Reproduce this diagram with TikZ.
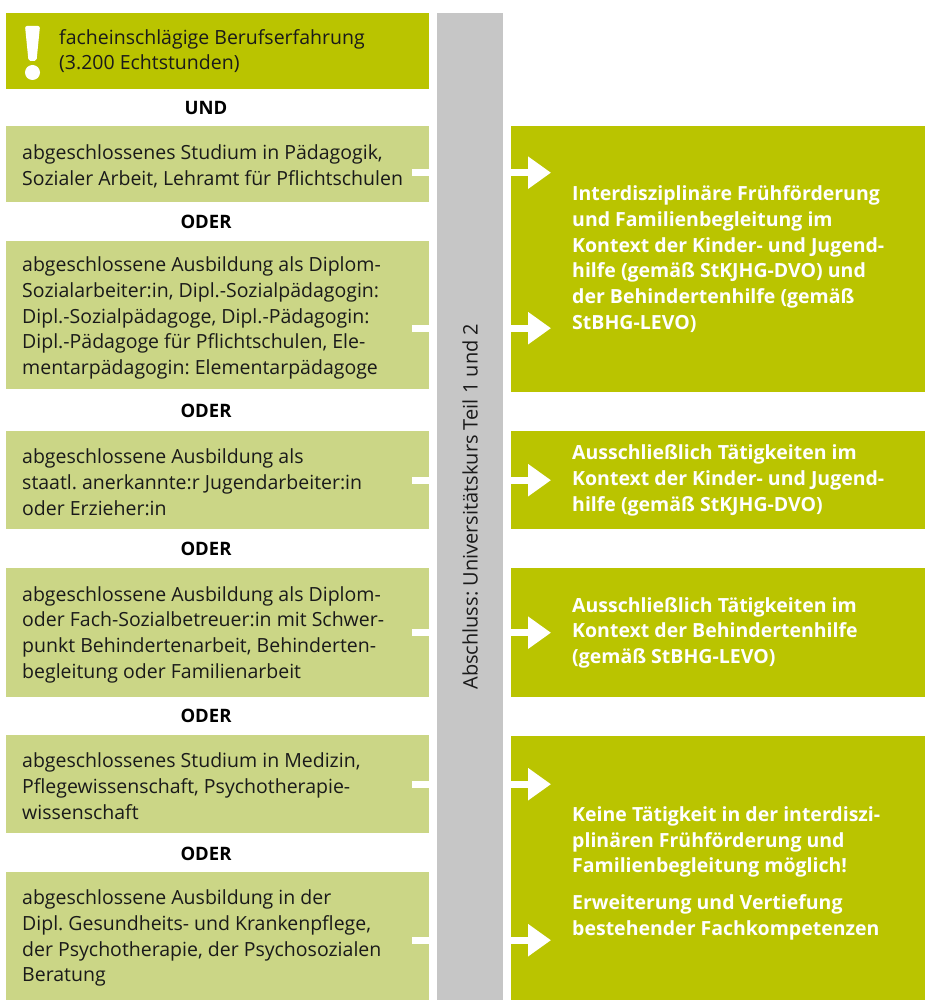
\documentclass[tikz,border=0pt]{standalone}
\usepackage{fontspec}
\setmainfont{Open Sans}
\usepackage{tikz}
\usetikzlibrary{arrows.meta,positioning}
\definecolor{limegreen}{HTML}{BAC400}
\definecolor{palegreen}{HTML}{CBD686}
\definecolor{bargrey}{HTML}{C6C6C6}
\definecolor{ink}{HTML}{1A1A1A}
\frenchspacing
\tikzset{
  reqbox/.style={rectangle, fill=#1, anchor=north west,
    minimum width=423pt, inner sep=0pt},
  reqbox/.default=palegreen,
  reqtext/.style={anchor=west, inner sep=0pt, align=left, text=ink,
    font=\fontsize{19.5}{25.7}\selectfont},
  joinlabel/.style={font=\bfseries\fontsize{18.5}{20}\selectfont, text=black},
  resultbox/.style={rectangle, fill=limegreen, anchor=north west,
    minimum width=414pt, inner sep=0pt},
  resulttext/.style={anchor=west, inner sep=0pt, align=left, text=white,
    font=\bfseries\fontsize{19.5}{25.7}\selectfont},
  pathway/.style={white, line width=7pt,
    -{Triangle[length=23pt,width=31pt]}},
}

\begin{document}
\begin{tikzpicture}[x=1pt, y=-1pt]
  \useasboundingbox (0,0) rectangle (925,1000);

  % entry requirements
  \node[reqbox=limegreen, minimum height=76pt] (praxis) at (6,13) {};
  \fill[white, rounded corners=2pt] (25,26) -- (40,26) -- (36.5,61) -- (28.5,61) -- cycle;
  \fill[white] (32.5,72.5) circle (7.5pt);
  \node[reqtext] (praxistext) at ([xshift=53pt]praxis.west)
    {facheinschlägige Berufserfahrung\\(3.200 Echtstunden)};
  \node[joinlabel] (und) at (206,108) {UND};

  \node[reqbox, minimum height=76pt] (studium) at (6,126) {};
  \node[reqtext] (studiumtext) at ([xshift=16pt,yshift=-2pt]studium.west)
    {abgeschlossenes Studium in Pädagogik,\\Sozialer Arbeit, Lehramt für Pflichtschulen};
  \node[joinlabel] (oder1) at (206,222) {ODER};

  \node[reqbox, minimum height=148pt] (diplom) at (6,241) {};
  \node[reqtext] (diplomtext) at ([xshift=16pt,yshift=-3pt]diplom.west)
    {abgeschlossene Ausbildung als Diplom-\\Sozialarbeiter:in, Dipl.-Sozialpädagogin:\\Dipl.-Sozialpädagoge, Dipl.-Pädagogin:\\Dipl.-Pädagoge für Pflichtschulen, Ele-\\mentarpädagogin: Elementarpädagoge};
  \node[joinlabel] (oder2) at (206,411) {ODER};

  \node[reqbox, minimum height=98pt] (jugend) at (6,431) {};
  \node[reqtext] (jugendtext) at ([xshift=16pt,yshift=-2pt]jugend.west)
    {abgeschlossene Ausbildung als\\staatl. anerkannte:r Jugendarbeiter:in\\oder Erzieher:in};
  \node[joinlabel] (oder3) at (206,549) {ODER};

  \node[reqbox, minimum height=129pt] (sozial) at (6,568) {};
  \node[reqtext] (sozialtext) at ([xshift=16pt,yshift=-2pt]sozial.west)
    {abgeschlossene Ausbildung als Diplom-\\oder Fach-Sozialbetreuer:in mit Schwer-\\punkt Behindertenarbeit, Behinderten-\\begleitung oder Familienarbeit};
  \node[joinlabel] (oder4) at (206,716) {ODER};

  \node[reqbox, minimum height=98pt] (medizin) at (6,735) {};
  \node[reqtext] (medizintext) at ([xshift=16pt,yshift=-2pt]medizin.west)
    {abgeschlossenes Studium in Medizin,\\Pflegewissenschaft, Psychotherapie-\\wissenschaft};
  \node[joinlabel] (oder5) at (206,854) {ODER};

  \node[reqbox, minimum height=128pt] (pflege) at (6,872) {};
  \node[reqtext] (pflegetext) at ([xshift=16pt,yshift=-2pt]pflege.west)
    {abgeschlossene Ausbildung in der\\Dipl. Gesundheits- und Krankenpflege,\\der Psychotherapie, der Psychosozialen\\Beratung};

  % fields of activity
  \node[resultbox, minimum height=266pt] (fruehf) at (511,126) {};
  \node[resulttext] (fruehftext) at ([xshift=61pt]fruehf.west)
    {Interdisziplinäre Frühförderung\\und Familienbegleitung im\\Kontext der Kinder- und Jugend-\\hilfe (gemäß StKJHG-DVO) und\\der Behindertenhilfe (gemäß\\StBHG-LEVO)};
  \node[resultbox, minimum height=98pt] (kjh) at (511,431) {};
  \node[resulttext] (kjhtext) at ([xshift=61pt]kjh.west)
    {Ausschließlich Tätigkeiten im\\Kontext der Kinder- und Jugend-\\hilfe (gemäß StKJHG-DVO)};
  \node[resultbox, minimum height=129pt] (bhg) at (511,568) {};
  \node[resulttext] (bhgtext) at ([xshift=61pt]bhg.west)
    {Ausschließlich Tätigkeiten im\\Kontext der Behindertenhilfe\\(gemäß StBHG-LEVO)};
  \node[resultbox, minimum height=264pt] (keine) at (511,736) {};
  \node[resulttext] (keinetext) at ([xshift=61pt,yshift=-5pt]keine.west)
    {Keine Tätigkeit in der interdiszi-\\plinären Frühförderung und\\Familienbegleitung möglich!\\[11pt]Erweiterung und Vertiefung\\bestehender Fachkompetenzen};

  % arrows run underneath the course bar
  \draw[pathway] ([xshift=-17pt,yshift=-8.5pt]studium.east) -- ([xshift=40pt,yshift=-8.5pt]studium.east -| fruehf.west);
  \draw[pathway] ([xshift=-17pt,yshift=-13pt]diplom.east) -- ([xshift=40pt,yshift=-13pt]diplom.east -| fruehf.west);
  \draw[pathway] ([xshift=-17pt]jugend.east) -- ([xshift=40pt]jugend.east -| kjh.west);
  \draw[pathway] ([xshift=-17pt]sozial.east) -- ([xshift=40pt]sozial.east -| bhg.west);
  \draw[pathway] ([xshift=-17pt]medizin.east) -- ([xshift=40pt]medizin.east -| keine.west);
  \draw[pathway] ([xshift=-17pt,yshift=-4pt]pflege.east) -- ([xshift=40pt,yshift=-4pt]pflege.east -| keine.west);

  % university course
  \node[fill=bargrey, anchor=north west, minimum width=66pt, minimum height=987pt,
    inner sep=0pt] (kursbar) at (437,13) {};
  \node[rotate=90, text=ink, font=\fontsize{20}{22}\selectfont] (kurs) at (kursbar.center)
    {Abschluss: Universitätskurs Teil 1 und 2};
\end{tikzpicture}
\end{document}
